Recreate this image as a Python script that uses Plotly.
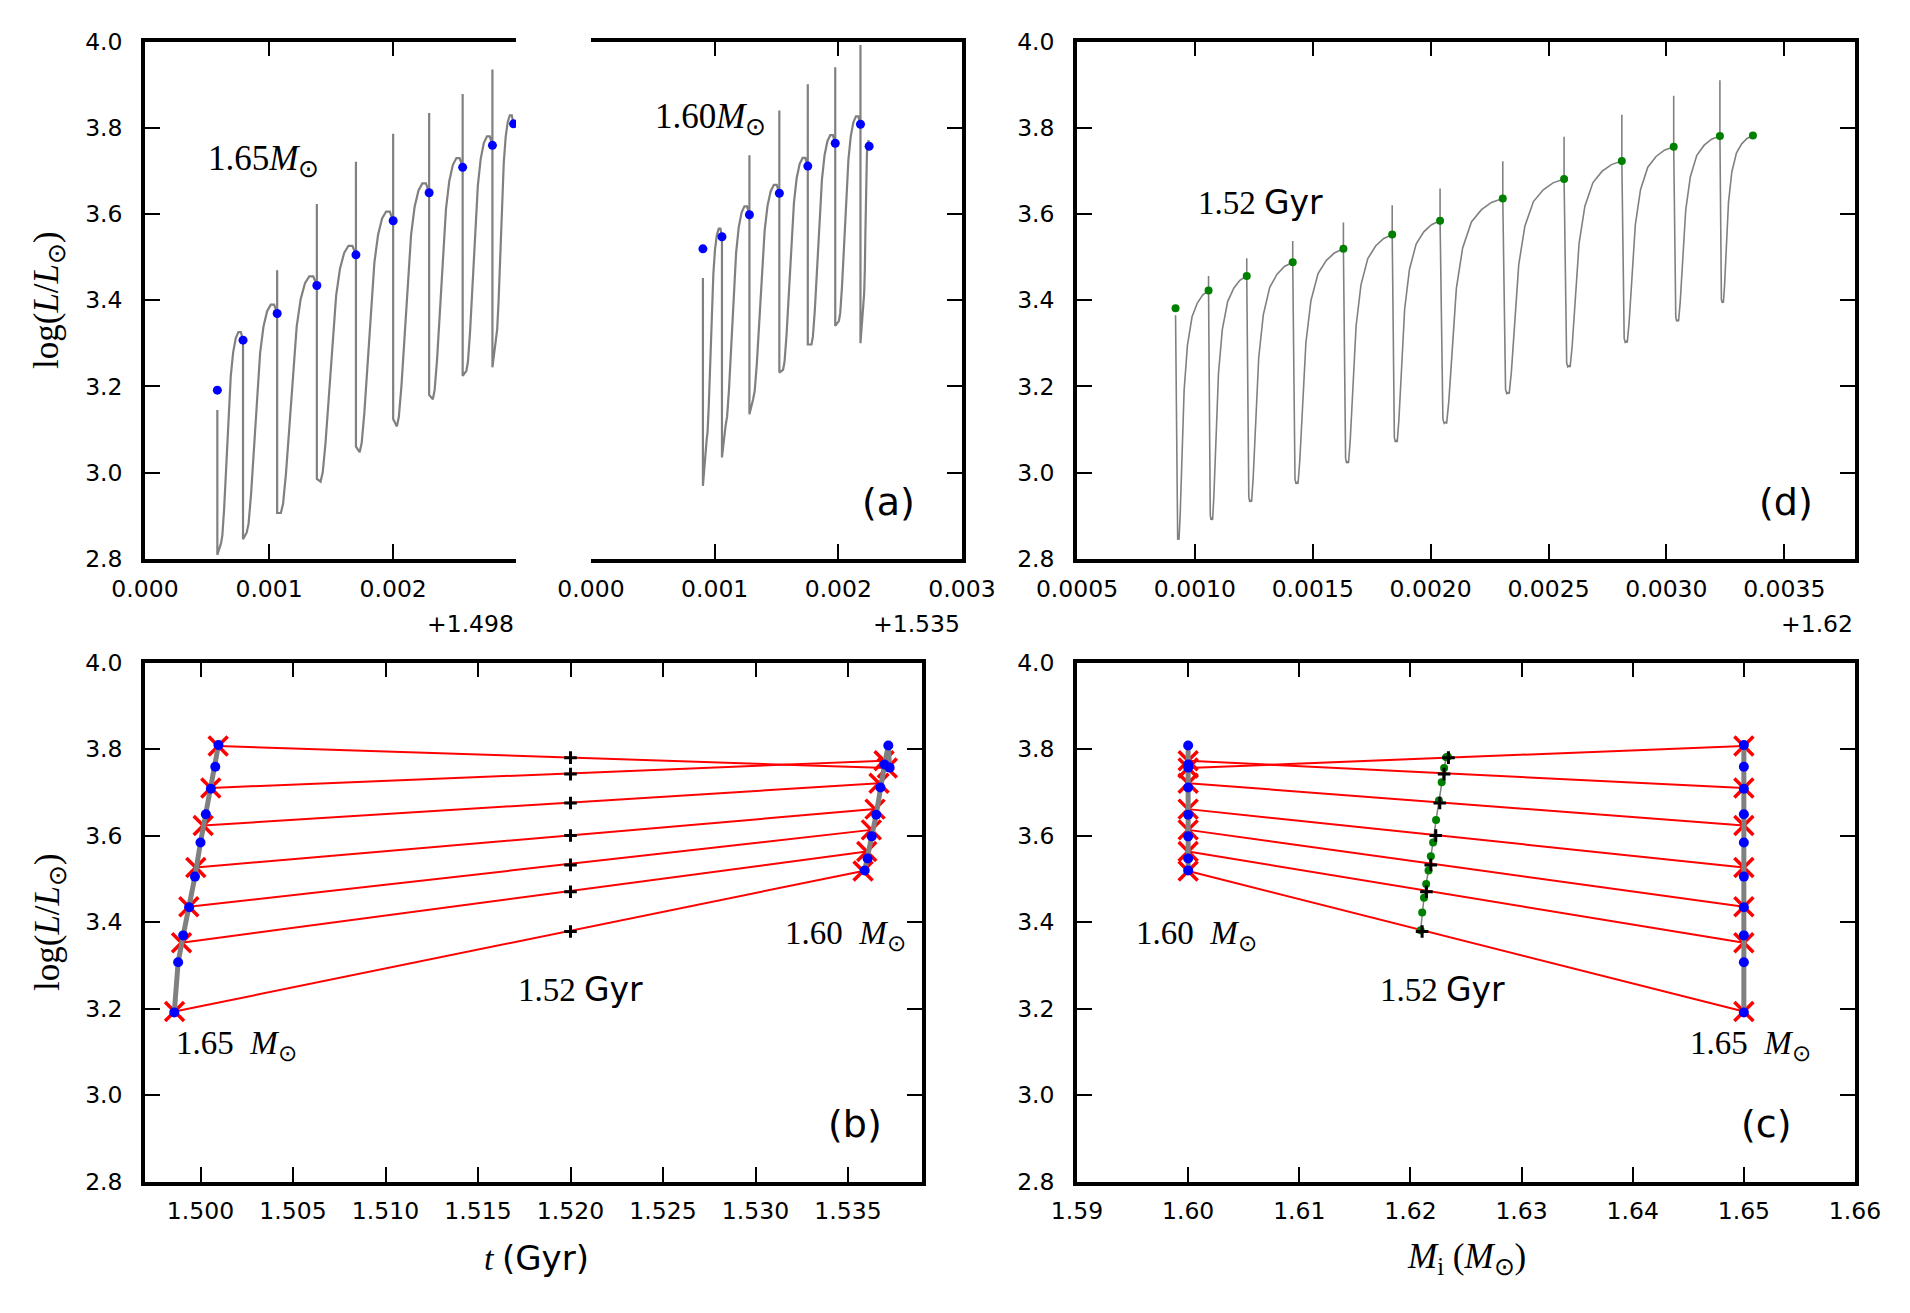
import plotly.graph_objects as go

W, H = 1910, 1313

# ---------------- data ----------------
# Panel (a) left: 1.65 Msun track, time offset from 1.498 Gyr
t65 = [0.000583, 0.00079, 0.001065, 0.001385, 0.0017, 0.0020, 0.00229, 0.00256, 0.0028, 0.00297]
L65 = [3.191, 3.307, 3.369, 3.434, 3.505, 3.584, 3.649, 3.708, 3.759, 3.809]
spike65 = [None, None, 3.469, 3.623, 3.721, 3.786, 3.834, 3.878, 3.935, None]
min1_65 = [2.809, 2.845, 2.906, 2.985, 3.060, 3.124, 3.180, 3.224, 3.244]
min2_65 = [2.836, 2.861, 2.906, 2.979, 3.047, 3.107, 3.170, 3.236, 3.313]
start65 = 3.145

# Panel (a) right: 1.60 Msun track, time offset from 1.535 Gyr
t60 = [0.000905, 0.001059, 0.001281, 0.001523, 0.001753, 0.001975, 0.002179, 0.002249]
L60 = [3.519, 3.547, 3.598, 3.648, 3.711, 3.764, 3.808, 3.757]
spike60 = [None, None, 3.736, 3.840, 3.901, 3.940, 3.992, None]
min1_60 = [2.969, 3.035, 3.135, 3.232, 3.297, 3.340, 3.300]
min2_60 = [3.075, 3.110, 3.170, 3.238, 3.297, 3.352, 3.416]
start60 = 3.451

# Panel (d): 1.52 Gyr isochrone section, Mi offset from 1.62 Msun
Md = [0.000918, 0.001058, 0.00122, 0.001415, 0.00163, 0.001837, 0.00204,
      0.002306, 0.002566, 0.002811, 0.003031, 0.003227, 0.003367]
Ld = [3.381, 3.422, 3.456, 3.488, 3.519, 3.552, 3.584, 3.636, 3.681, 3.723, 3.756, 3.781, 3.782]
spiked = [None, 3.456, 3.497, 3.537, 3.580, 3.620, 3.659, 3.722, 3.779, 3.830, 3.874, 3.910, None]
mind = [2.844, 2.890, 2.932, 2.974, 3.022, 3.071, 3.114, 3.183, 3.245, 3.302, 3.351, 3.394]
startd = 3.365

# pulse-cycle shape (fraction of interval, fraction of rise)
shapeA_u = [0, 0.06, 0.14, 0.24, 0.34, 0.44, 0.55, 0.67, 0.79, 0.90, 1.0]
shapeA_v = [0, 0.04, 0.17, 0.40, 0.63, 0.82, 0.94, 1.01, 1.04, 1.04, 1.0]
shapeD_u = [0.045, 0.065, 0.085, 0.105, 0.14, 0.19, 0.26, 0.36, 0.50, 0.66, 0.82, 1.0]
shapeD_v = [0.02, 0.0, 0.005, 0.0, 0.10, 0.33, 0.60, 0.78, 0.895, 0.95, 0.982, 1.0]
dip_gap = 0.00003

# Panels (b)/(c): interpolation anchors
tX65 = [1.498598, 1.498975, 1.499369, 1.499746, 1.500146, 1.500556, 1.500955]
LX65 = [3.193, 3.352, 3.435, 3.526, 3.623, 3.710, 3.807]
tX60 = [1.535814, 1.536013, 1.536262, 1.536462, 1.536678, 1.536948, 1.537125]
LX60 = [3.518, 3.563, 3.613, 3.661, 3.721, 3.773, 3.756]
t_iso = 1.52
Lplus = [3.378, 3.470, 3.532, 3.600, 3.675, 3.742, 3.780]
Mplus = [1.62105, 1.62144, 1.62183, 1.62228, 1.62264, 1.62303, 1.62342]
off65, off60, offM = 1.498, 1.535, 1.62
M65, M60 = 1.65, 1.60

ytick_vals = [2.8, 3.0, 3.2, 3.4, 3.6, 3.8, 4.0]
ytick_text = ["2.8", "3.0", "3.2", "3.4", "3.6", "3.8", "4.0"]
xa1_vals = [0.0, 0.001, 0.002]
xa1_text = ["0.000", "0.001", "0.002"]
xa2_vals = [0.0, 0.001, 0.002, 0.003]
xa2_text = ["0.000", "0.001", "0.002", "0.003"]
xd_vals = [0.0005, 0.0010, 0.0015, 0.0020, 0.0025, 0.0030, 0.0035]
xd_text = ["0.0005", "0.0010", "0.0015", "0.0020", "0.0025", "0.0030", "0.0035"]
xb_vals = [1.500, 1.505, 1.510, 1.515, 1.520, 1.525, 1.530, 1.535]
xb_text = ["1.500", "1.505", "1.510", "1.515", "1.520", "1.525", "1.530", "1.535"]
xc_vals = [1.59, 1.60, 1.61, 1.62, 1.63, 1.64, 1.65, 1.66]
xc_text = ["1.59", "1.60", "1.61", "1.62", "1.63", "1.64", "1.65", "1.66"]


def track_a(t, L, spike, m1, m2, start):
    xs, ys = [t[0], t[0]], [start, m1[0]]
    for i in range(len(t) - 1):
        if i > 0:
            if spike[i] is not None:
                xs.append(t[i]); ys.append(spike[i])
            xs.append(t[i]); ys.append(m1[i])
        t0 = t[i] + dip_gap
        xs.append(t0); ys.append(m2[i])
        span = t[i + 1] - t0
        rise = L[i + 1] - m2[i]
        for u, v in zip(shapeA_u[1:], shapeA_v[1:]):
            xs.append(t0 + u * span); ys.append(m2[i] + v * rise)
    return xs, ys


def track_d(x, L, spike, m, start):
    xs, ys = [x[0]], [start]
    for i in range(len(x) - 1):
        if i > 0 and spike[i] is not None:
            xs += [x[i], x[i]]; ys += [spike[i], L[i]]
        span = x[i + 1] - x[i]
        rise = L[i + 1] - m[i]
        for u, v in zip(shapeD_u, shapeD_v):
            xs.append(x[i] + u * span); ys.append(m[i] + v * rise)
    return xs, ys


GRAY = "#808080"
fig = go.Figure()

# ---- panel (a) left
xa, ya = track_a(t65, L65, spike65, min1_65, min2_65, start65)
fig.add_trace(go.Scatter(x=xa, y=ya, mode="lines", line=dict(color=GRAY, width=2.2),
                         xaxis="x", yaxis="y", showlegend=False))
fig.add_trace(go.Scatter(x=t65, y=L65, mode="markers", marker=dict(color="#0000ff", size=9),
                         xaxis="x", yaxis="y", showlegend=False))
# ---- panel (a) right
xa, ya = track_a(t60, L60, spike60, min1_60, min2_60, start60)
fig.add_trace(go.Scatter(x=xa, y=ya, mode="lines", line=dict(color=GRAY, width=2.2),
                         xaxis="x2", yaxis="y2", showlegend=False))
fig.add_trace(go.Scatter(x=t60, y=L60, mode="markers", marker=dict(color="#0000ff", size=9),
                         xaxis="x2", yaxis="y2", showlegend=False))
# ---- panel (d)
xd, yd = track_d(Md, Ld, spiked, mind, startd)
fig.add_trace(go.Scatter(x=xd, y=yd, mode="lines", line=dict(color=GRAY, width=1.6),
                         xaxis="x3", yaxis="y3", showlegend=False))
fig.add_trace(go.Scatter(x=Md, y=Ld, mode="markers", marker=dict(color="#008000", size=8),
                         xaxis="x3", yaxis="y3", showlegend=False))

# ---- panel (b)
for k in range(len(tX65)):
    fig.add_trace(go.Scatter(x=[tX65[k], tX60[k]], y=[LX65[k], LX60[k]], mode="lines",
                             line=dict(color="#ff0000", width=2), xaxis="x4", yaxis="y4",
                             showlegend=False))
fig.add_trace(go.Scatter(x=tX65 + tX60, y=LX65 + LX60, mode="markers",
                         marker=dict(symbol="x-thin", size=19, line=dict(color="#ff0000", width=3.5)),
                         xaxis="x4", yaxis="y4", showlegend=False))
fig.add_trace(go.Scatter(x=[off65 + v for v in t65], y=L65, mode="lines",
                         line=dict(color=GRAY, width=5), xaxis="x4", yaxis="y4", showlegend=False))
fig.add_trace(go.Scatter(x=[off60 + v for v in t60], y=L60, mode="lines",
                         line=dict(color=GRAY, width=5), xaxis="x4", yaxis="y4", showlegend=False))
fig.add_trace(go.Scatter(x=[off65 + v for v in t65] + [off60 + v for v in t60], y=L65 + L60,
                         mode="markers", marker=dict(color="#0000ff", size=10),
                         xaxis="x4", yaxis="y4", showlegend=False))
fig.add_trace(go.Scatter(x=[t_iso] * len(Lplus), y=Lplus, mode="markers",
                         marker=dict(symbol="cross-thin", size=9, line=dict(color="black", width=3)),
                         xaxis="x4", yaxis="y4", showlegend=False))

# ---- panel (c)
for k in range(len(LX65)):
    fig.add_trace(go.Scatter(x=[M60, M65], y=[LX60[k], LX65[k]], mode="lines",
                             line=dict(color="#ff0000", width=2), xaxis="x5", yaxis="y5",
                             showlegend=False))
fig.add_trace(go.Scatter(x=[M60] * len(LX60) + [M65] * len(LX65), y=LX60 + LX65, mode="markers",
                         marker=dict(symbol="x-thin", size=19, line=dict(color="#ff0000", width=3.5)),
                         xaxis="x5", yaxis="y5", showlegend=False))
fig.add_trace(go.Scatter(x=[M65] * len(L65), y=L65, mode="lines", line=dict(color=GRAY, width=5),
                         xaxis="x5", yaxis="y5", showlegend=False))
fig.add_trace(go.Scatter(x=[M60] * len(L60), y=L60, mode="lines", line=dict(color=GRAY, width=5),
                         xaxis="x5", yaxis="y5", showlegend=False))
fig.add_trace(go.Scatter(x=[M60] * len(L60) + [M65] * len(L65), y=L60 + L65, mode="markers",
                         marker=dict(color="#0000ff", size=10), xaxis="x5", yaxis="y5",
                         showlegend=False))
fig.add_trace(go.Scatter(x=[offM + v for v in Md], y=Ld, mode="lines+markers",
                         line=dict(color=GRAY, width=1.5), marker=dict(color="#008000", size=8),
                         xaxis="x5", yaxis="y5", showlegend=False))
fig.add_trace(go.Scatter(x=Mplus, y=Lplus, mode="markers",
                         marker=dict(symbol="cross-thin", size=9, line=dict(color="black", width=3)),
                         xaxis="x5", yaxis="y5", showlegend=False))

# ---------------- layout ----------------
def px(x):
    return x / W


def py(y):
    return 1 - y / H


TOP = [py(558.7), py(41.5)]
BOT = [py(1181.5), py(662.5)]
TF = dict(family="DejaVu Sans", size=23.5, color="black")
LW = 3.5

common_x = dict(ticks="inside", ticklen=15, tickwidth=1.5, tickcolor="black", showline=True,
                linecolor="black", linewidth=LW, showgrid=False, zeroline=False, tickfont=TF,
                ticklabelstandoff=6, automargin=False)
common_y = dict(ticks="inside", ticklen=15, tickwidth=1.5, tickcolor="black", showline=True,
                linecolor="black", linewidth=LW, showgrid=False, zeroline=False, tickfont=TF,
                range=[2.8, 4.0], tickvals=ytick_vals, ticktext=ytick_text, ticklabelstandoff=14,
                automargin=False)

fig.update_layout(
    width=W, height=H, margin=dict(l=0, r=0, t=0, b=0, autoexpand=False),
    paper_bgcolor="white", plot_bgcolor="white", showlegend=False,
    xaxis=dict(common_x, domain=[px(145), px(516)], range=[0, 0.00299], tickvals=xa1_vals,
               ticktext=xa1_text, mirror="ticks", anchor="y"),
    yaxis=dict(common_y, domain=TOP, anchor="x", mirror=False),
    xaxis2=dict(common_x, domain=[px(591), px(962)], range=[0, 0.003], tickvals=xa2_vals,
                ticktext=xa2_text, mirror="ticks", anchor="y2"),
    yaxis2=dict(common_y, domain=TOP, anchor="x2", side="right", showticklabels=False,
                mirror=False),
    xaxis3=dict(common_x, domain=[px(1077), px(1855)], range=[0.0005, 0.0038], tickvals=xd_vals,
                ticktext=xd_text, mirror="ticks", anchor="y3"),
    yaxis3=dict(common_y, domain=TOP, anchor="x3", mirror="ticks"),
    xaxis4=dict(common_x, domain=[px(145), px(922)], range=[1.497, 1.539], tickvals=xb_vals,
                ticktext=xb_text, mirror="ticks", anchor="y4"),
    yaxis4=dict(common_y, domain=BOT, anchor="x4", mirror="ticks"),
    xaxis5=dict(common_x, domain=[px(1077), px(1855)], range=[1.59, 1.66], tickvals=xc_vals,
                ticktext=xc_text, mirror="ticks", anchor="y5"),
    yaxis5=dict(common_y, domain=BOT, anchor="x5", mirror="ticks"),
)

SERIF = "Liberation Serif"
MSUN = "<i>M</i><sub>⊙</sub>"
GAP = "\u2002"


def ann(x, y, text, size=30, xanchor="center", yanchor="middle", family=SERIF, angle=0):
    fig.add_annotation(x=px(x), y=py(y), xref="paper", yref="paper", text=text, showarrow=False,
                       xanchor=xanchor, yanchor=yanchor, textangle=angle,
                       font=dict(family=family, size=size, color="black"))


sans = "<span style='font-family:DejaVu Sans'>Gyr</span>"
ann(263, 161, "1.65" + MSUN, size=35)
ann(710, 118, "1.60" + MSUN, size=35)
ann(888, 502, "(a)", size=38, family="DejaVu Sans")
ann(1260, 203, "1.52 " + sans, size=33)
ann(1786, 502, "(d)", size=38, family="DejaVu Sans")
ann(236, 1045, "1.65" + GAP + MSUN, size=33)
ann(580, 989, "1.52 " + sans, size=33)
ann(845, 935, "1.60" + GAP + MSUN, size=33)
ann(855, 1124, "(b)", size=38, family="DejaVu Sans")
ann(1196, 935, "1.60" + GAP + MSUN, size=33)
ann(1442, 989, "1.52 " + sans, size=33)
ann(1750, 1045, "1.65" + GAP + MSUN, size=33)
ann(1766, 1124, "(c)", size=38, family="DejaVu Sans")

# offset texts
ann(516, 624, "+1.498", size=23.5, xanchor="right", family="DejaVu Sans")
ann(962, 624, "+1.535", size=23.5, xanchor="right", family="DejaVu Sans")
ann(1855, 624, "+1.62", size=23.5, xanchor="right", family="DejaVu Sans")

# axis titles
ytitle = "log(<i>L</i>/<i>L</i><sub>⊙</sub>)"
ann(49, 300, ytitle, size=35, angle=-90)
ann(49, 922, ytitle, size=35, angle=-90)
ann(536, 1258, "<i>t</i> <span style='font-family:DejaVu Sans'>(Gyr)</span>", size=34)
ann(1466, 1258, "<i>M</i><sub>i</sub> (" + MSUN + ")", size=35)

fig.write_html("out.html")
